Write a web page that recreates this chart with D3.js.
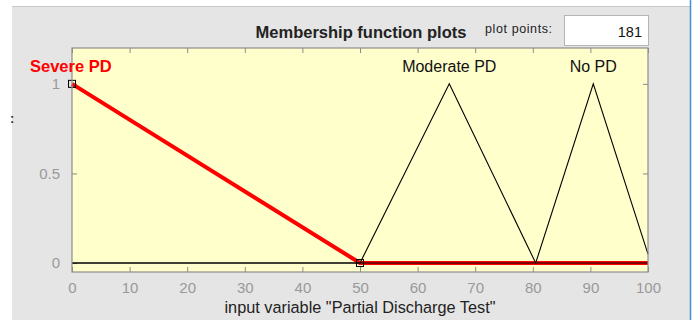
<!DOCTYPE html>
<html>
<head>
<meta charset="utf-8">
<script src="https://cdn.jsdelivr.net/npm/d3@7"></script>
<style>
  html, body { margin: 0; padding: 0; background: #ffffff; }
  svg { display: block; font-family: "Liberation Sans", Arial, sans-serif; }
</style>
</head>
<body>
<svg id="chart" width="697" height="320"></svg>
<script>
// Membership functions of the input "Partial Discharge Test"
const mfNames = ["Severe PD", "Moderate PD", "No PD"];
const severeX = [0, 50, 100];
const severeY = [1, 0, 0];
const moderateX = [0, 50, 65.5, 80.5, 100];
const moderateY = [0, 0, 1, 0, 0];
const noPdX = [0, 80.5, 90.5, 100];
const noPdY = [0, 0, 1, 0.05];
// label anchor (x value) for each MF name
const labelX = [0, 65.5, 90.5];
// vertices of the selected MF that carry square markers
const markerX = [0, 50];
const markerY = [1, 0];

const xTicks = [0, 10, 20, 30, 40, 50, 60, 70, 80, 90, 100];
const yTicks = [0, 0.5, 1];
const plotPoints = "181";
const titleText = "Membership function plots";
const xLabelText = 'input variable "Partial Discharge Test"';

const svg = d3.select("#chart");

// window panel
svg.append("rect").attr("x", 12).attr("y", 7).attr("width", 678).attr("height", 313)
  .attr("fill", "#e5e5e5");
svg.append("line").attr("x1", 12).attr("x2", 690).attr("y1", 6.5).attr("y2", 6.5)
  .attr("stroke", "#c8c8c8");
svg.append("line").attr("x1", 690.5).attr("x2", 690.5).attr("y1", 0).attr("y2", 320)
  .attr("stroke", "#3c8fd8").attr("stroke-width", 1.5);
svg.append("text").attr("x", 10).attr("y", 123).attr("font-size", 13).attr("font-weight", "bold")
  .attr("fill", "#333").text(":");

const L = 72, R = 648, T = 48, B = 272;
const x = d3.scaleLinear().domain([0, 100]).range([L, R]);
const y = d3.scaleLinear().domain([-0.05, 1.2]).range([B, T]);

// axes background
svg.append("rect").attr("x", L).attr("y", T).attr("width", R - L).attr("height", B - T)
  .attr("fill", "#ffffcc");

// header
svg.append("text").attr("x", 361).attr("y", 38).attr("text-anchor", "middle")
  .attr("font-size", 16.5).attr("font-weight", "bold").attr("fill", "#222")
  .text(titleText);
svg.append("text").attr("x", 485).attr("y", 33).attr("font-size", 12.5)
  .attr("letter-spacing", 0.6).attr("fill", "#222")
  .text("plot points:");
svg.append("rect").attr("x", 564.5).attr("y", 15.5).attr("width", 84).attr("height", 30)
  .attr("fill", "#ffffff").attr("stroke", "#b4b4b4");
svg.append("text").attr("x", 642).attr("y", 37).attr("text-anchor", "end")
  .attr("font-size", 14.5).attr("fill", "#111").text(plotPoints);

const axisColor = "#8c8c8c";
const tickText = "#999999";
const tickLen = 5;

// ticks (inward, all four sides)
const g = svg.append("g");
g.append("g").attr("transform", `translate(0,${B})`)
  .call(d3.axisBottom(x).tickValues(xTicks).tickSizeInner(-tickLen).tickSizeOuter(0).tickPadding(10))
  .call(s => {
    s.select(".domain").remove();
    s.selectAll("line").attr("stroke", axisColor);
    s.selectAll("text").attr("font-size", 15).attr("fill", tickText)
      .attr("font-family", "Liberation Sans, Arial, sans-serif");
  });
g.append("g").attr("transform", `translate(0,${T})`)
  .call(d3.axisTop(x).tickValues(xTicks).tickSizeInner(-tickLen).tickSizeOuter(0).tickFormat(""))
  .call(s => { s.select(".domain").remove(); s.selectAll("line").attr("stroke", axisColor); });
g.append("g").attr("transform", `translate(${L},0)`)
  .call(d3.axisLeft(y).tickValues(yTicks).tickSizeInner(-tickLen).tickSizeOuter(0).tickPadding(12)
    .tickFormat(d3.format("~g")))
  .call(s => {
    s.select(".domain").remove();
    s.selectAll("line").attr("stroke", axisColor);
    s.selectAll("text").attr("font-size", 15).attr("fill", tickText)
      .attr("font-family", "Liberation Sans, Arial, sans-serif");
  });
g.append("g").attr("transform", `translate(${R},0)`)
  .call(d3.axisRight(y).tickValues(yTicks).tickSizeInner(-tickLen).tickSizeOuter(0).tickFormat(""))
  .call(s => { s.select(".domain").remove(); s.selectAll("line").attr("stroke", axisColor); });

// membership function curves
const line = d3.line().x(d => x(d[0])).y(d => y(d[1]));
const zip = (xs, ys) => xs.map((v, i) => [v, ys[i]]);

svg.append("path").datum(zip(severeX, severeY)).attr("d", line)
  .attr("fill", "none").attr("stroke", "#ff0000").attr("stroke-width", 4)
  .attr("stroke-linejoin", "round");
[zip(moderateX, moderateY), zip(noPdX, noPdY)].forEach(pts => {
  svg.append("path").datum(pts).attr("d", line)
    .attr("fill", "none").attr("stroke", "#000000").attr("stroke-width", 1.1);
});

// vertex markers of the selected function
svg.selectAll("rect.marker").data(markerX.map((v, i) => [v, markerY[i]])).enter()
  .append("rect").attr("class", "marker")
  .attr("x", d => x(d[0]) - 3.5).attr("y", d => y(d[1]) - 3.5)
  .attr("width", 7).attr("height", 7)
  .attr("fill", "none").attr("stroke", "#000").attr("stroke-width", 1);

// axes box
svg.append("rect").attr("x", L).attr("y", T).attr("width", R - L).attr("height", B - T)
  .attr("fill", "none").attr("stroke", axisColor).attr("stroke-width", 1.2);

// MF names
svg.append("text").attr("x", 30).attr("y", 72).attr("font-size", 16.5).attr("font-weight", "bold")
  .attr("fill", "#ff0000").text(mfNames[0]);
[1, 2].forEach(i => {
  svg.append("text").attr("x", x(labelX[i])).attr("y", 72).attr("text-anchor", "middle")
    .attr("font-size", 16).attr("fill", "#111").text(mfNames[i]);
});

// x label
svg.append("text").attr("x", 360).attr("y", 313).attr("text-anchor", "middle")
  .attr("font-size", 16.3).attr("fill", "#222").text(xLabelText);
</script>
</body>
</html>
